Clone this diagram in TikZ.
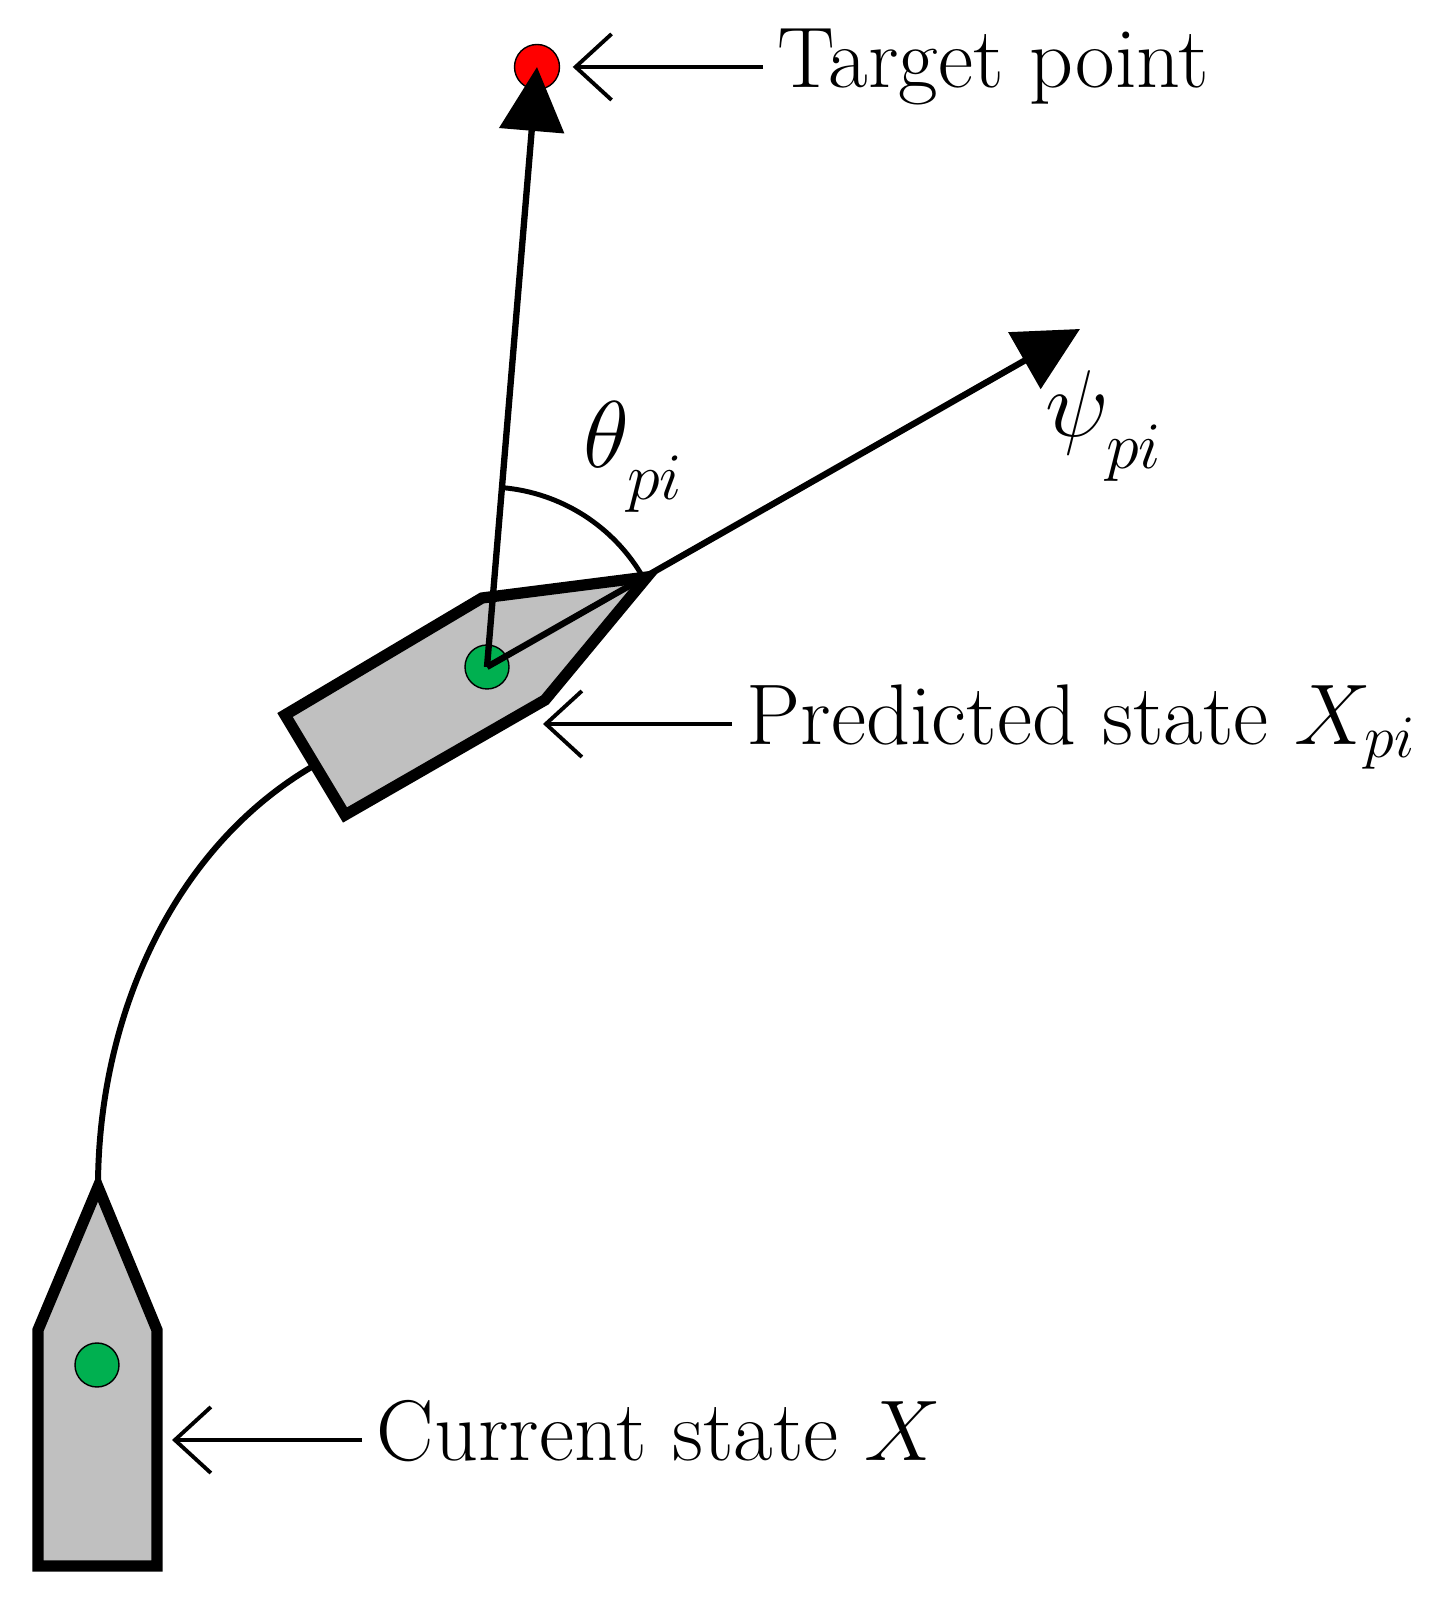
\RequirePackage{fix-cm}
\documentclass[tikz,border=0pt]{standalone}
\usepackage{tikz}
\usetikzlibrary{math,arrows.meta}

\definecolor{hullgray}{RGB}{192,192,192}
\definecolor{cggreen}{RGB}{0,176,80}
\definecolor{goalred}{RGB}{255,0,0}

\newcommand{\sub}[1]{_{\lower0.18em\hbox{$\scriptstyle #1$}}}

\begin{document}
\begin{tikzpicture}[
  hull/.style={line width=3.2pt, fill=hullgray, line join=miter},
  cg/.style={circle, draw, line width=0.4pt, fill=cggreen, minimum size=4.4mm, inner sep=0pt},
  heading/.style={line width=1.8pt, -{Triangle[length=6.4mm,width=6.4mm]}},
  callout/.style={line width=1.1pt, -{Straight Barb[length=3.6mm,width=6.6mm]}},
  caption/.style={anchor=west, inner xsep=1.4mm, inner ysep=0pt, text height=6mm, text depth=1.8mm, font=\fontsize{24.5}{29}\selectfont},
  greek/.style={inner sep=0pt, anchor=base west, font=\fontsize{27}{32}\selectfont}
]
  \tikzmath{%
    \hx = 4.87; \hy = 9.38;
    \tx = 5.37; \ty = 15.38;
    \sx = 10.80; \sy = 12.76;
    \phead = atan2(\sy - \hy, \sx - \hx); \pgoal = atan2(\ty - \hy, \tx - \hx);
    \rarc = 1.8;
  }

  \useasboundingbox (0,0) rectangle (14.40,16.05);

  \coordinate (bow0) at (0.98,4.18);
  \coordinate (stern1) at (3.15,8.40);
  \draw[line width=1.7pt] (bow0) to[out=90, in=210, looseness=0.9] (stern1);

  \draw[hull] (bow0) -- (1.57,2.75) -- (1.57,0.39) -- (0.38,0.39) -- (0.38,2.75) -- cycle;
  \node[cg] (xcur) at (0.97,2.40) {};

  \draw[hull] (2.85,8.90) -- (4.82,10.07) -- (6.47,10.28) -- (5.45,9.05) -- (3.45,7.90) -- cycle;
  \node[cg] (xpred) at (\hx,\hy) {};

  \node[circle, draw, line width=0.4pt, fill=goalred, minimum size=4.5mm, inner sep=0pt] (goal) at (\tx,\ty) {};
  \coordinate (psi) at (\sx,\sy);

  \draw[heading] (xpred.center) -- (goal.center);
  \draw[heading] (xpred.center) -- (psi);
  \draw[line width=1.4pt] (xpred.center) ++(\phead:\rarc) arc[start angle=\phead, end angle=\pgoal, radius=\rarc];

  \node[greek] (theta) at (5.83,11.37) {$\theta\sub{pi}$};
  \node[greek] (psilbl) at (10.45,11.68) {$\psi\sub{pi}$};

  \node[caption] (lgoal) at (7.63,15.38) {Target point};
  \draw[callout, shorten >=1.25mm] (lgoal) -- (goal);

  \node[caption] (lpred) at (7.32,8.81) {Predicted state $X_{pi}$};
  \coordinate (ppred) at (5.43,8.81);
  \draw[callout] (lpred) -- (ppred);

  \node[caption] (lcur) at (3.62,1.65) {Current state $X$};
  \coordinate (pcur) at (1.72,1.65);
  \draw[callout] (lcur) -- (pcur);
\end{tikzpicture}
\end{document}
